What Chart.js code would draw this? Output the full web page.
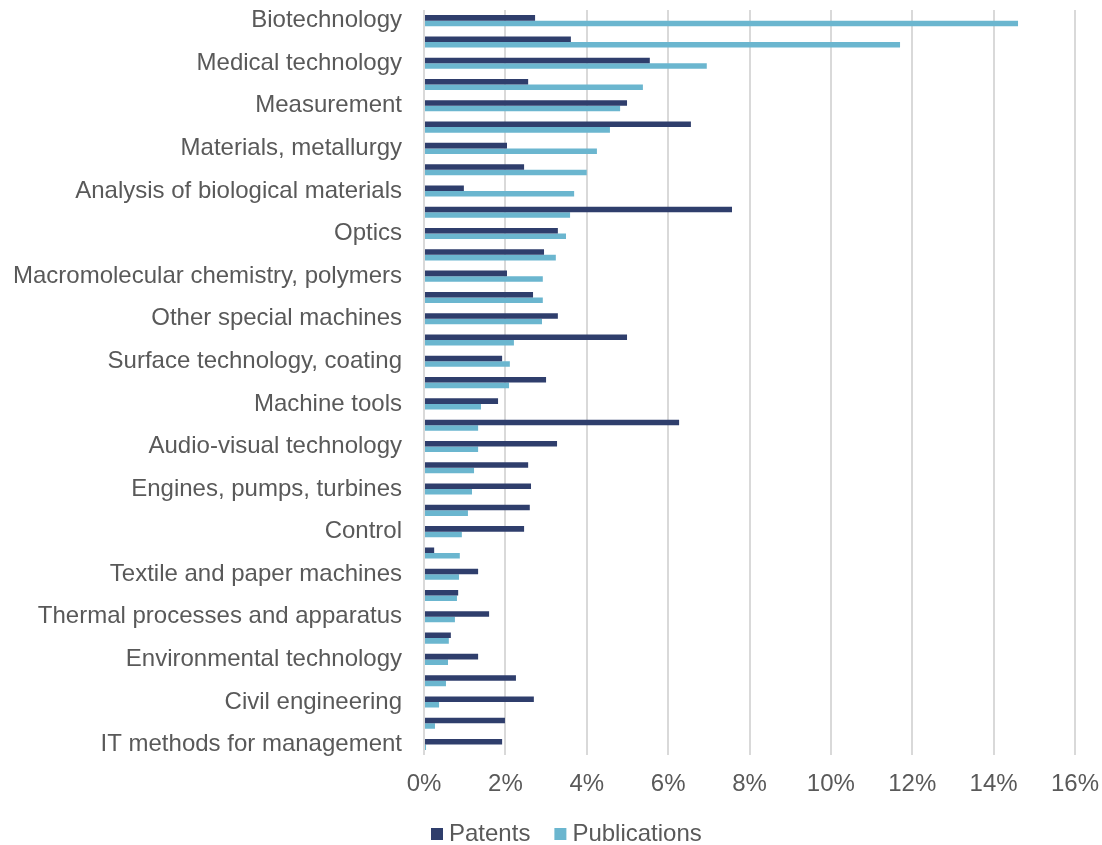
<!DOCTYPE html>
<html>
<head>
<meta charset="utf-8">
<script src="https://cdn.jsdelivr.net/npm/chart.js@4/dist/chart.umd.min.js"></script>
<style>
  html, body { margin: 0; padding: 0; background: #ffffff; }
  #wrap { width: 1102px; height: 845px; }
</style>
</head>
<body>
<div id="wrap"><canvas id="c" width="1102" height="845"></canvas></div>
<script>
const categories = [
  "Biotechnology",
  "Pharmaceuticals",
  "Medical technology",
  "Organic fine chemistry",
  "Measurement",
  "Computer technology",
  "Materials, metallurgy",
  "Basic materials chemistry",
  "Analysis of biological materials",
  "Electrical machinery, apparatus, energy",
  "Optics",
  "Semiconductors",
  "Macromolecular chemistry, polymers",
  "Chemical engineering",
  "Other special machines",
  "Transport",
  "Surface technology, coating",
  "Telecommunications",
  "Machine tools",
  "Digital communication",
  "Audio-visual technology",
  "Food chemistry",
  "Engines, pumps, turbines",
  "Handling",
  "Control",
  "Micro-structural and nano-technology",
  "Textile and paper machines",
  "Basic communication processes",
  "Thermal processes and apparatus",
  "Furniture, games",
  "Environmental technology",
  "Mechanical elements",
  "Civil engineering",
  "Other consumer goods",
  "IT methods for management"
];
const patents = [
  2.73, 3.61, 5.55, 2.56, 4.99, 6.56, 2.04, 2.46, 0.98, 7.57,
  3.29, 2.95, 2.04, 2.68, 3.29, 4.99, 1.92, 3.00, 1.82, 6.27,
  3.27, 2.56, 2.63, 2.60, 2.46, 0.25, 1.33, 0.84, 1.60, 0.66,
  1.33, 2.26, 2.70, 1.99, 1.92
];
const publications = [
  14.60, 11.70, 6.95, 5.38, 4.82, 4.57, 4.25, 4.00, 3.69, 3.59,
  3.49, 3.24, 2.92, 2.92, 2.90, 2.21, 2.11, 2.09, 1.40, 1.33,
  1.33, 1.23, 1.18, 1.08, 0.93, 0.88, 0.86, 0.81, 0.76, 0.61,
  0.59, 0.54, 0.37, 0.27, 0.05
];
const seriesNames = ["Patents", "Publications"];
const xMin = 0, xMax = 16, xStep = 2;

const textColor = "#595959";
const fontFamily = "'Liberation Sans', Arial, sans-serif";
const colors = ["#2F3E6C", "#6BB6CF"];

// legend drawn below the axis, Excel style
const bottomLegend = {
  id: "bottomLegend",
  afterDraw(chart) {
    const ctx = chart.ctx;
    ctx.save();
    ctx.font = "24px " + fontFamily;
    ctx.textBaseline = "middle";
    ctx.textAlign = "left";
    let x = 431;
    const cy = 834;
    chart.data.datasets.forEach((ds, i) => {
      ctx.fillStyle = ds.backgroundColor;
      ctx.fillRect(x, cy - 6, 12, 12);
      ctx.fillStyle = textColor;
      const tx = x + 18;
      ctx.fillText(ds.label, tx, cy);
      x = tx + ctx.measureText(ds.label).width + 24;
    });
    ctx.restore();
  }
};

new Chart(document.getElementById("c"), {
  type: "bar",
  data: {
    labels: categories,
    datasets: [
      { label: seriesNames[0], data: patents, backgroundColor: colors[0], borderWidth: 0,
        categoryPercentage: 0.52, barPercentage: 1.0 },
      { label: seriesNames[1], data: publications, backgroundColor: colors[1], borderWidth: 0,
        categoryPercentage: 0.52, barPercentage: 1.0 }
    ]
  },
  plugins: [bottomLegend],
  options: {
    indexAxis: "y",
    responsive: false,
    animation: false,
    layout: { padding: { top: 10, right: 27, bottom: 31, left: 0 } },
    plugins: {
      legend: { display: false },
      tooltip: { enabled: false }
    },
    scales: {
      x: {
        min: xMin,
        max: xMax,
        afterFit: s => { s.paddingLeft = 0; s.paddingRight = 0; },
        ticks: {
          stepSize: xStep,
          color: textColor,
          font: { family: fontFamily, size: 24 },
          padding: 15,
          callback: v => v + "%"
        },
        grid: { color: "#D9D9D9", lineWidth: 2, drawTicks: false },
        border: { display: false }
      },
      y: {
        afterFit: s => { s.width = 424; s.paddingTop = 0; s.paddingBottom = 0; },
        ticks: {
          autoSkip: false,
          color: textColor,
          font: { family: fontFamily, size: 24 },
          padding: 22,
          callback: function (v, i) { return i % 2 === 0 ? this.getLabelForValue(v) : ""; }
        },
        grid: { display: false, drawTicks: false },
        border: { display: false }
      }
    }
  }
});
</script>
</body>
</html>
